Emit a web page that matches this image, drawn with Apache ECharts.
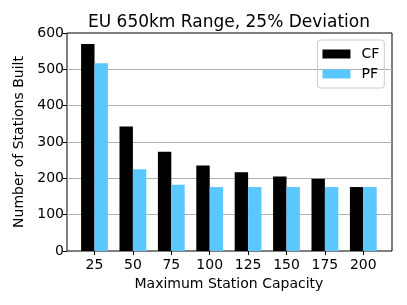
<!DOCTYPE html>
<html><head><meta charset="utf-8">
<script src="https://cdn.jsdelivr.net/npm/echarts@6/dist/echarts.min.js"></script>
<style>html,body{margin:0;padding:0;background:#fff}#c{width:407px;height:305px}</style>
</head><body><div id="c"></div>
<script>
const categories = ['25', '50', '75', '100', '125', '150', '175', '200'];
const cfValues = [570, 343, 273, 235, 217, 205, 199, 176];
const pfValues = [517, 225, 182, 176, 176, 176, 176, 176];
const yTicks = [0, 100, 200, 300, 400, 500, 600];

const FONT = 'DejaVu Sans';
const chart = echarts.init(document.getElementById('c'), null, {renderer: 'canvas'});
chart.setOption({
  animation: false,
  textStyle: {fontFamily: FONT},
  title: {text: 'EU 650km Range, 25% Deviation', left: 224, textAlign: 'center', top: 9,
    textStyle: {fontFamily: FONT, fontSize: 17, fontWeight: 'normal', color: '#000'}},
  legend: {orient: 'vertical', right: 22.7, top: 40, itemWidth: 28, itemHeight: 9, itemGap: 6,
    padding: [7, 5, 7, 5], borderColor: '#ccc', borderWidth: 1, borderRadius: 3,
    textStyle: {fontFamily: FONT, fontSize: 14, color: '#000', padding: [0, 0, 0, 6]},
    data: [{name: 'CF', icon: 'rect'}, {name: 'PF', icon: 'rect'}]},
  grid: [
    {left: 75.3, right: 24.5, top: 33, bottom: 54},
    {left: 67, right: 15, top: 33, bottom: 54, show: true, borderColor: '#000', borderWidth: 1, backgroundColor: 'transparent'}
  ],
  xAxis: [
    {gridIndex: 0, type: 'category', data: categories, axisLine: {show: false},
      axisTick: {show: true, alignWithLabel: true, length: 4, lineStyle: {color: '#000'}},
      axisLabel: {fontFamily: FONT, fontSize: 14, color: '#000', margin: 7},
      name: 'Maximum Station Capacity', nameLocation: 'middle', nameGap: 24,
      nameTextStyle: {fontFamily: FONT, fontSize: 14, color: '#000'}},
    {gridIndex: 1, type: 'value', show: false}
  ],
  yAxis: [
    {gridIndex: 0, type: 'value', min: 0, max: 600, interval: 100, show: false, splitLine: {show: false}},
    {gridIndex: 1, type: 'value', min: yTicks[0], max: yTicks[yTicks.length - 1], interval: 100,
      axisLine: {show: false},
      axisTick: {show: true, length: 4, lineStyle: {color: '#000'}},
      axisLabel: {fontFamily: FONT, fontSize: 14, color: '#000', margin: 3},
      splitLine: {show: true, showMinLine: false, showMaxLine: false, lineStyle: {color: '#b0b0b0', width: 1}},
      name: 'Number of Stations Built', nameLocation: 'middle', nameGap: 32,
      nameTextStyle: {fontFamily: FONT, fontSize: 14, color: '#000'}}
  ],
  series: [
    {name: 'CF', type: 'bar', xAxisIndex: 0, yAxisIndex: 0, data: cfValues, barWidth: 13.4, barGap: '0%',
      itemStyle: {color: '#000'}},
    {name: 'PF', type: 'bar', xAxisIndex: 0, yAxisIndex: 0, data: pfValues, barWidth: 13.4, barGap: '0%',
      itemStyle: {color: '#5ac8ff'}}
  ]
});
</script></body></html>
